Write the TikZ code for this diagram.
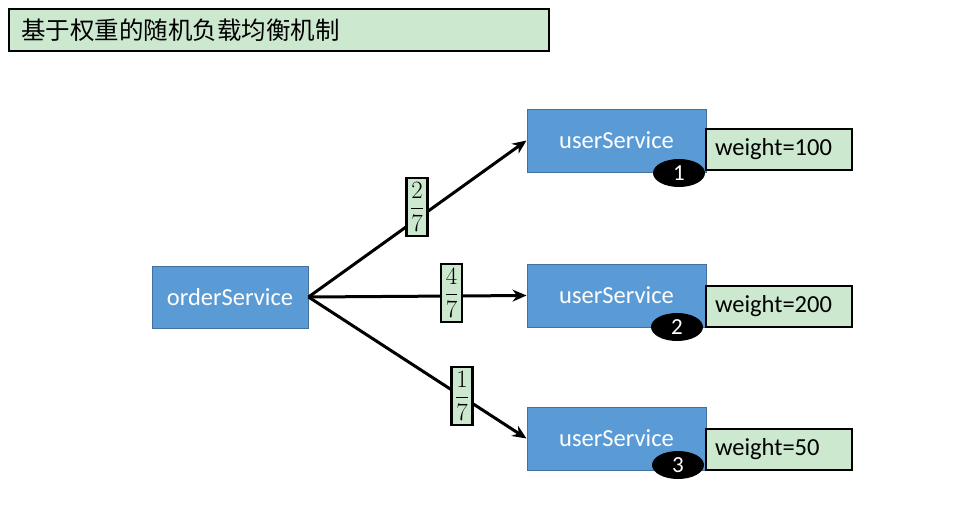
\documentclass[tikz,border=0pt]{standalone}
\usepackage{fontspec}
\usepackage{amsmath}
\setsansfont{Carlito}
\newfontfamily\cjk{Noto Sans CJK SC}
\usetikzlibrary{arrows.meta,shapes.geometric}
\definecolor{paleg}{HTML}{CCE8CF}
\definecolor{svcblue}{HTML}{5B9BD5}
\definecolor{svcedge}{HTML}{41719C}
\tikzset{
  svc/.style={draw=svcedge, line width=1pt, fill=svcblue, text=white, minimum width=179pt, minimum height=63pt, inner sep=0pt, font=\sffamily\fontsize{24.5}{28}\selectfont},
  wbox/.style={draw=black, line width=2.2pt, fill=paleg, minimum width=146pt, minimum height=41pt, inner sep=0pt, font=\sffamily\fontsize{24.5}{28}\selectfont, text width=128pt, align=left},
  num/.style={ellipse, fill=black, text=white, minimum width=52pt, minimum height=28pt, inner sep=0pt, font=\sffamily\fontsize{23}{26}\selectfont},
  frac/.style={draw=black, line width=2.2pt, fill=paleg, minimum width=21pt, minimum height=58pt, inner sep=0pt, font=\fontsize{26}{30}\selectfont},
  conn/.style={line width=3pt, -{Stealth[length=14pt,width=12pt]}}
}
\begin{document}
\begin{tikzpicture}[x=1pt,y=-1pt]
\useasboundingbox (0,0) rectangle (974,506);
\node[draw=black, line width=2.2pt, fill=paleg, minimum width=540pt, minimum height=42pt, inner sep=0pt, anchor=north west, text width=516pt, align=left, font=\cjk\fontsize{24.5}{28}\selectfont] (title) at (8,8) {基于权重的随机负载均衡机制};
\node[svc, minimum width=156pt, minimum height=62pt] (order) at (230,297) {orderService};
\node[svc] (u1) at (616.5,140.5) {\raisebox{-2pt}{userService}};
\node[svc] (u2) at (616.5,295.5) {\raisebox{-2pt}{userService}};
\node[svc] (u3) at (616.5,438.5) {\raisebox{-2pt}{userService}};
\node[wbox] (w1) at (779,149.5) {\raisebox{-3pt}{weight=100}};
\node[wbox] (w2) at (779,306.5) {\raisebox{-3pt}{weight=200}};
\node[wbox] (w3) at (779,449.5) {\raisebox{-3pt}{weight=50}};
\node[num] (n1) at (679,173) {1};
\node[num] (n2) at (677,327) {2};
\node[num] (n3) at (678,465) {3};
\draw[conn] (order.east) -- (u1.west);
\draw[conn] (order.east) -- (u2.west);
\draw[conn] (order.east) -- (u3.west);
\node[frac] (f1) at (417,207) {$\dfrac{2}{7}$};
\node[frac] (f2) at (451.5,293) {$\dfrac{4}{7}$};
\node[frac] (f3) at (462,396) {$\dfrac{1}{7}$};
\end{tikzpicture}
\end{document}
